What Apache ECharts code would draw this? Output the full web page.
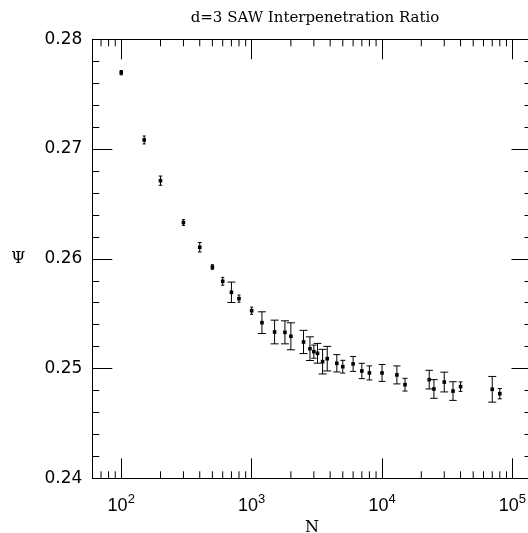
<!DOCTYPE html>
<html>
<head>
<meta charset="utf-8">
<script src="https://cdn.jsdelivr.net/npm/echarts@6/dist/echarts.min.js"></script>
<style>html,body{margin:0;padding:0;background:#fff}#c{width:528px;height:533px}</style>
</head>
<body>
<div id="c"></div>
<script>
// Data
var N = [100,150,200,300,400,500,600,700,800,1000,1200,1500,1800,2000,2500,2800,3000,3200,3500,3800,4500,5000,6000,7000,8000,10000,13000,15000,23000,25000,30000,35000,40000,70000,80000];
var psi = [0.27696,0.27083,0.26712,0.2633,0.26105,0.25925,0.25795,0.25695,0.25637,0.25527,0.25418,0.25333,0.2533,0.25294,0.25242,0.25181,0.25154,0.25139,0.25063,0.2509,0.25048,0.25017,0.25042,0.24978,0.2496,0.2496,0.24942,0.24853,0.24899,0.24814,0.24877,0.24795,0.24835,0.24811,0.24771];
var err = [0.0002,0.00036,0.00042,0.00027,0.00043,0.00021,0.00036,0.00093,0.00033,0.00033,0.00099,0.00108,0.00105,0.00123,0.00106,0.00108,0.0006,0.0009,0.00112,0.00112,0.00079,0.00058,0.00068,0.0007,0.00064,0.00077,0.00082,0.00058,0.00085,0.00085,0.0009,0.00085,0.00043,0.00117,0.00047];
var yTicks = ['0.24','0.25','0.26','0.27','0.28'];
var xMin = 60, xMax = 140000, yMin = 0.24, yMax = 0.28;

var minorN = [];
for (var d = 1; d <= 4; d++) {
  for (var k = 2; k <= 9; k++) {
    var v = k * Math.pow(10, d);
    if (v > xMin && v < xMax) minorN.push(v);
  }
}

var chart = echarts.init(document.getElementById('c'), null, {renderer: 'canvas'});
var lineStyle = {color: '#000', width: 1};

function xLabel(v) {
  var e = Math.log10(v);
  if (Math.abs(e - Math.round(e)) < 1e-6 && v >= 100 && v <= 100000) {
    return '{b|10}{s|' + Math.round(e) + '}';
  }
  return '';
}

var option = {
  animation: false,
  backgroundColor: '#fff',
  title: {
    text: 'd=3 SAW Interpenetration Ratio',
    left: 310, top: 6, textAlign: 'center',
    textStyle: {fontFamily: 'DejaVu Serif', fontSize: 15, fontWeight: 'normal', color: '#000'}
  },
  grid: {left: 92.3, top: 39.3, right: -3.5, bottom: 54.7, containLabel: false, outerBoundsMode: 'none'},
  xAxis: [{
    type: 'log', logBase: 10, min: xMin, max: xMax, position: 'bottom',
    name: 'N', nameLocation: 'middle', nameGap: 39,
    nameTextStyle: {fontFamily: 'DejaVu Serif', fontSize: 16, color: '#000'},
    axisLine: {show: true, lineStyle: lineStyle},
    axisTick: {show: true, inside: true, length: 20, lineStyle: lineStyle},
    splitLine: {show: false},
    axisLabel: {
      show: true, margin: 15, formatter: xLabel,
      rich: {
        b: {fontFamily: 'Liberation Sans', fontSize: 18, color: '#000', lineHeight: 22, verticalAlign: 'bottom'},
        s: {fontFamily: 'Liberation Sans', fontSize: 13, color: '#000', lineHeight: 13, verticalAlign: 'top'}
      }
    }
  }, {
    type: 'log', logBase: 10, min: xMin, max: xMax, position: 'top',
    axisLine: {show: true, lineStyle: lineStyle},
    axisTick: {show: true, inside: true, length: 20, lineStyle: lineStyle},
    axisLabel: {show: false}, splitLine: {show: false}
  }],
  yAxis: [{
    type: 'value', min: yMin, max: yMax, interval: 0.01, position: 'left',
    name: 'Ψ', nameLocation: 'middle', nameGap: 67, nameRotate: 0,
    nameTextStyle: {fontFamily: 'DejaVu Serif', fontSize: 16, color: '#000'},
    axisLine: {show: true, lineStyle: lineStyle},
    axisTick: {show: true, inside: true, length: 20, lineStyle: lineStyle},
    minorTick: {show: true, splitNumber: 5, length: 7, lineStyle: lineStyle},
    splitLine: {show: false}, minorSplitLine: {show: false},
    axisLabel: {
      show: true, margin: 10,
      fontFamily: 'DejaVu Sans', fontSize: 17, color: '#000',
      formatter: function (v) {
        var s = v.toFixed(2);
        return yTicks.indexOf(s) >= 0 ? s : '';
      }
    }
  }, {
    type: 'value', min: yMin, max: yMax, interval: 0.01, position: 'right',
    axisLine: {show: true, lineStyle: lineStyle},
    axisTick: {show: true, inside: true, length: 20, lineStyle: lineStyle},
    minorTick: {show: true, splitNumber: 5, length: 7, lineStyle: lineStyle},
    splitLine: {show: false}, axisLabel: {show: false}
  }],
  series: [{
    type: 'custom', xAxisIndex: 0, yAxisIndex: 0, clip: false, silent: true,
    data: minorN.map(function (v) { return [v, yMin]; }),
    renderItem: function (params, api) {
      var v = api.value(0);
      var b = api.coord([v, yMin]);
      var t = api.coord([v, yMax]);
      var st = {stroke: '#000', lineWidth: 1};
      return {type: 'group', children: [
        {type: 'line', shape: {x1: b[0], y1: b[1], x2: b[0], y2: b[1] - 7}, style: st},
        {type: 'line', shape: {x1: t[0], y1: t[1], x2: t[0], y2: t[1] + 7}, style: st}
      ]};
    }
  }, {
    type: 'custom', xAxisIndex: 0, yAxisIndex: 0, clip: false, silent: true,
    data: N.map(function (n, i) { return [n, psi[i], err[i]]; }),
    encode: {x: 0, y: 1},
    renderItem: function (params, api) {
      var x = api.value(0), y = api.value(1), e = api.value(2);
      var p = api.coord([x, y]);
      var top = api.coord([x, y + e]);
      var bot = api.coord([x, y - e]);
      var ePx = Math.abs(bot[1] - p[1]);
      var cap = Math.min(4, Math.max(1.5, ePx * 0.4));
      var st = {stroke: '#000', lineWidth: 1};
      return {type: 'group', children: [
        {type: 'line', shape: {x1: p[0], y1: top[1], x2: p[0], y2: bot[1]}, style: st},
        {type: 'line', shape: {x1: p[0] - cap, y1: top[1], x2: p[0] + cap, y2: top[1]}, style: st},
        {type: 'line', shape: {x1: p[0] - cap, y1: bot[1], x2: p[0] + cap, y2: bot[1]}, style: st},
        {type: 'rect', shape: {x: p[0] - 1.8, y: p[1] - 1.8, width: 3.6, height: 3.6}, style: {fill: '#000'}}
      ]};
    }
  }]
};
chart.setOption(option);
</script>
</body>
</html>
